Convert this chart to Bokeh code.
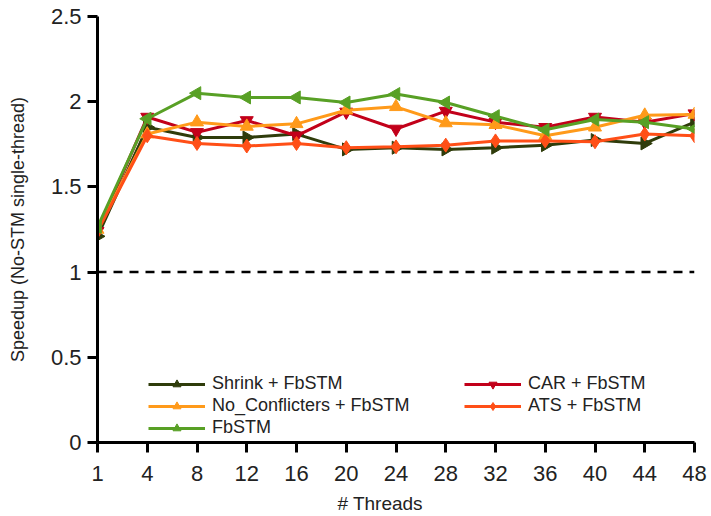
import math
from bokeh.plotting import figure
from bokeh.models import (Range1d, FixedTicker, Span, Legend, LegendItem, ColumnDataSource)
from bokeh.embed import file_html
from bokeh.resources import INLINE

threads = [1, 4, 8, 12, 16, 20, 24, 28, 32, 36, 40, 44, 48]
y_ticks = [0, 0.5, 1, 1.5, 2, 2.5]
y_tick_labels = ["0", "0.5", "1", "1.5", "2", "2.5"]

shrink = [1.21, 1.85, 1.79, 1.79, 1.81, 1.72, 1.73, 1.72, 1.73, 1.745, 1.775, 1.755, 1.88]
car = [1.24, 1.91, 1.82, 1.89, 1.80, 1.94, 1.84, 1.945, 1.88, 1.85, 1.91, 1.88, 1.93]
noconf = [1.25, 1.81, 1.88, 1.855, 1.87, 1.95, 1.97, 1.875, 1.865, 1.80, 1.85, 1.92, 1.925]
ats = [1.24, 1.80, 1.755, 1.74, 1.755, 1.73, 1.735, 1.745, 1.77, 1.77, 1.765, 1.81, 1.80]
fbstm = [1.265, 1.90, 2.05, 2.025, 2.025, 1.995, 2.045, 1.995, 1.915, 1.835, 1.895, 1.88, 1.84]

series = [
    ("Shrink + FbSTM", shrink, "#2f3c0b", "triangle", -math.pi / 2, 13),
    ("CAR + FbSTM", car, "#c2001a", "inverted_triangle", 0.0, 13),
    ("No_Conflicters + FbSTM", noconf, "#ff9a1a", "triangle", 0.0, 13),
    ("ATS + FbSTM", ats, "#ff4f17", "diamond", 0.0, 14),
    ("FbSTM", fbstm, "#58a025", "triangle", math.pi / 2, 13),
]

FONT = "Liberation Sans"

p = figure(width=711, height=516, output_backend="svg", toolbar_location=None,
           x_range=Range1d(0, len(threads) - 1), y_range=Range1d(0, 2.5),
           min_border_left=97, min_border_right=17, min_border_top=16, min_border_bottom=74)
p.outline_line_color = None
p.grid.visible = False
p.background_fill_color = "white"
p.border_fill_color = "white"

idx = list(range(len(threads)))

p.add_layout(Span(location=1, dimension="width", line_color="black", line_width=2.5, line_dash="9 7"))

items = {}
for name, vals, color, marker, ang, size in series:
    src = ColumnDataSource(dict(x=idx, y=vals))
    l = p.line("x", "y", source=src, line_color=color, line_width=3)
    s = p.scatter("x", "y", source=src, marker=marker, size=size, angle=ang, angle_units="rad",
                  fill_color=color, line_color=color)
    items[name] = LegendItem(label=name, renderers=[l, s])

for ax in (p.xaxis[0], p.yaxis[0]):
    ax.axis_line_width = 3
    ax.axis_line_color = "black"
    ax.major_tick_line_width = 3
    ax.major_tick_line_color = "black"
    ax.major_tick_in = 0
    ax.major_tick_out = 10
    ax.minor_tick_line_color = None
    ax.major_label_text_font = FONT
    ax.major_label_text_font_size = "22px"
    ax.major_label_text_color = "#222222"
    ax.axis_label_text_font = FONT
    ax.axis_label_text_font_style = "normal"
    ax.axis_label_text_color = "#222222"

p.xaxis.ticker = FixedTicker(ticks=idx)
p.xaxis.major_label_overrides = {i: str(t) for i, t in zip(idx, threads)}
p.xaxis.major_label_standoff = 13
p.xaxis.axis_label = "# Threads" + "\u00a0" * 6
p.xaxis.axis_label_text_font_size = "19px"
p.xaxis.axis_label_standoff = 9

p.yaxis.ticker = FixedTicker(ticks=y_ticks)
p.yaxis.major_label_overrides = {t: s for t, s in zip(y_ticks, y_tick_labels)}
p.yaxis.major_label_standoff = 6
p.yaxis.axis_label = "Speedup (No-STM single-thread)"
p.yaxis.axis_label_text_font_size = "18px"
p.yaxis.axis_label_standoff = 20


def make_legend(names, loc):
    lg = Legend(items=[items[n] for n in names], location=loc,
                label_text_font=FONT, label_text_font_size="18px", label_text_color="#222222",
                glyph_width=57, glyph_height=20, label_height=20, label_standoff=7,
                spacing=1, padding=0, margin=0,
                border_line_alpha=0, background_fill_alpha=0)
    p.add_layout(lg)


make_legend(["Shrink + FbSTM", "No_Conflicters + FbSTM", "FbSTM"], (51, 4))
make_legend(["CAR + FbSTM", "ATS + FbSTM"], (367, 26))

open("out.html", "w").write(file_html(p, INLINE))
